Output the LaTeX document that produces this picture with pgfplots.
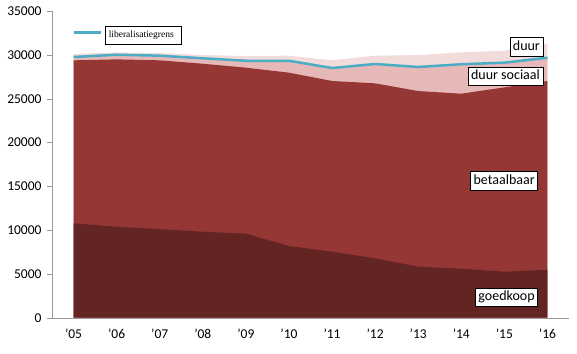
\documentclass[border=0pt]{standalone}
\usepackage{pgfplots}
\pgfplotsset{compat=1.18}
\usepackage{fontspec}
\setmainfont{Carlito}
\newfontfamily\legfont{Liberation Serif}
\definecolor{goed}{HTML}{632523}
\definecolor{betaal}{HTML}{953735}
\definecolor{dsoc}{HTML}{E6B9B8}
\definecolor{duur}{HTML}{F2DCDB}
\definecolor{lib}{HTML}{4BACC6}
\begin{document}
\begin{tikzpicture}[x=1pt,y=1pt]
\useasboundingbox (-52,-35.3) rectangle (525,317.7);
\begin{axis}[
  scale only axis, width=517pt, height=306.4pt,
  xmin=-0.5, xmax=11.5, ymin=0, ymax=35000,
  axis x line*=bottom, axis y line*=left,
  axis line style={-, draw=gray!80},
  tick style={draw=gray!80, thin},
  tick align=outside,
  major tick length=5pt,
  xtick={0,...,11},
  xticklabels={'05,'06,'07,'08,'09,'10,'11,'12,'13,'14,'15,'16},
  x tick style={draw=none},
  extra x ticks={-0.5,0.5,...,11.5},
  extra x tick labels={},
  extra x tick style={tick style={draw=gray!80, thin}, major tick length=5pt},
  ytick={0,5000,...,35000},
  /pgf/number format/1000 sep={},
  /pgf/number format/assume math mode=true,
  ticklabel style={font=\fontsize{13.5}{15}\selectfont, text=black},
  yticklabel style={xshift=-2pt},
  xticklabel style={yshift=-3pt},
  scaled y ticks=false,
  legend style={draw=none, fill=none, at={(0.0406,0.931)}, anchor=west, inner sep=0pt,
    font=\legfont\fontsize{9.5}{11}\selectfont},
  legend image code/.code={\draw[#1] (0pt,0pt) -- (27pt,0pt);},
]
\addplot[fill=duur, draw=none, forget plot] coordinates {(0,30120) (1,30310) (2,30240) (3,30000) (4,29890) (5,29930) (6,29400) (7,29930) (8,30000) (9,30310) (10,30500) (11,31340)} \closedcycle;
\addplot[fill=dsoc, draw=none, forget plot] coordinates {(0,29780) (1,30040) (2,29930) (3,29630) (4,29350) (5,29350) (6,28520) (7,28980) (8,28640) (9,28950) (10,29130) (11,29700)} \closedcycle;
\addplot[fill=betaal, draw=none, forget plot] coordinates {(0,29400) (1,29510) (2,29400) (3,29010) (4,28560) (5,27990) (6,27040) (7,26770) (8,25890) (9,25590) (10,26310) (11,27040)} \closedcycle;
\addplot[fill=goed, draw=none, forget plot] coordinates {(0,10780) (1,10390) (2,10130) (3,9820) (4,9600) (5,8190) (6,7540) (7,6780) (8,5830) (9,5600) (10,5250) (11,5480)} \closedcycle;
\addplot[draw=lib, line width=2.5pt] coordinates {(0,29780) (1,30040) (2,29930) (3,29630) (4,29350) (5,29350) (6,28520) (7,28980) (8,28640) (9,28950) (10,29130) (11,29700)};
\addlegendentry{\setlength{\fboxsep}{3.5pt}\setlength{\fboxrule}{0.6pt}\fbox{\rule[-3pt]{0pt}{10pt}liberalisatiegrens\hspace{4pt}}}
\tikzset{lbl/.style={draw=black, fill=white, line width=0.6pt, inner xsep=3pt, inner ysep=3pt, anchor=east, text height=9.5pt, text depth=3pt, font=\fontsize{14}{16}\selectfont}}
\node[lbl] at (axis cs:10.90,30920) {duur};
\node[lbl] at (axis cs:10.90,27550) {duur sociaal};
\node[lbl] at (axis cs:10.78,15610) {betaalbaar};
\node[lbl] at (axis cs:10.78,2307) {goedkoop};
\end{axis}
\end{tikzpicture}
\end{document}
